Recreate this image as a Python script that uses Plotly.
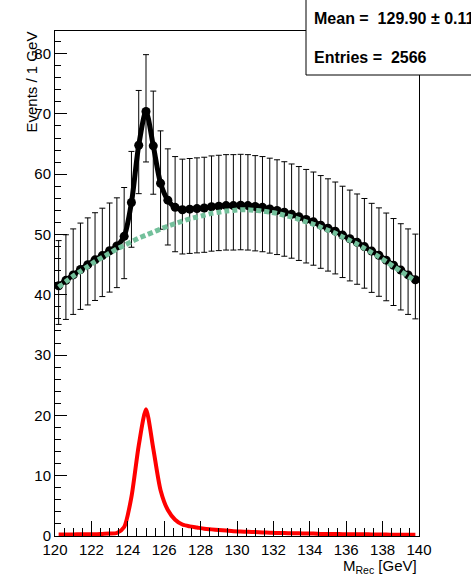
import plotly.graph_objects as go

# ---- data ----
bin_centers = [120.2 + 0.4 * i for i in range(50)]

background = [41.3, 42.2, 43.1, 43.9, 44.7, 45.5, 46.2, 46.9, 47.6, 48.2,
              48.8, 49.4, 49.9, 50.4, 50.9, 51.4, 51.8, 52.2, 52.6, 52.9,
              53.2, 53.5, 53.7, 53.9, 54.0, 54.1, 54.1, 54.0, 53.9, 53.7,
              53.5, 53.2, 52.9, 52.5, 52.1, 51.7, 51.2, 50.7, 50.2, 49.6,
              49.0, 48.4, 47.7, 47.0, 46.3, 45.5, 44.7, 43.9, 43.1, 42.3]

signal = [0.25, 0.25, 0.25, 0.3, 0.3, 0.3, 0.35, 0.4, 0.5, 1.5,
          6.5, 15.0, 21.0, 14.5, 7.6, 4.3, 2.7, 1.9, 1.6, 1.4,
          1.2, 1.1, 1.0, 0.9, 0.8, 0.75, 0.7, 0.65, 0.6, 0.55,
          0.5, 0.5, 0.45, 0.45, 0.4, 0.4, 0.35, 0.35, 0.35, 0.3,
          0.3, 0.3, 0.3, 0.25, 0.25, 0.25, 0.2, 0.2, 0.2, 0.2]

data_counts = [41.5, 42.4, 43.3, 44.2, 45.0, 45.8, 46.5, 47.3, 48.1, 49.7,
               55.3, 64.8, 70.4, 64.7, 58.5, 55.7, 54.5, 54.1, 54.2, 54.3,
               54.4, 54.6, 54.7, 54.8, 54.8, 54.85, 54.8, 54.65, 54.5, 54.25,
               54.0, 53.7, 53.35, 52.95, 52.5, 52.1, 51.55, 51.05, 50.55, 49.9,
               49.3, 48.7, 48.0, 47.25, 46.55, 45.75, 44.9, 44.1, 43.3, 42.5]

x_ticks = [120, 122, 124, 126, 128, 130, 132, 134, 136, 138, 140]
y_ticks = [0, 10, 20, 30, 40, 50, 60, 70, 80]

stats_mean = "Mean =\u00a0\u00a0129.90 \u00b1 0.11"
stats_entries = "Entries =\u00a0\u00a02566"


# Poisson (Garwood, Wilson-Hilferty approx.) asymmetric errors
def poisson_err(n):
    lo = n * (1 - 1 / (9 * n) - 1 / (3 * n ** 0.5)) ** 3
    m = n + 1
    hi = m * (1 - 1 / (9 * m) + 1 / (3 * m ** 0.5)) ** 3
    return hi - n, n - lo


err_up = [poisson_err(n)[0] for n in data_counts]
err_dn = [poisson_err(n)[1] for n in data_counts]

W, H = 471, 577
L, R, T, B = 55, 419, 31, 536


def px(xp):
    return (xp - L) / (R - L)


def py(yp):
    return (B - yp) / (B - T)


FONT = "Liberation Sans, Arial, Helvetica, sans-serif"

fig = go.Figure()

# data points with error bars
fig.add_trace(go.Scatter(
    x=bin_centers, y=data_counts, mode="markers",
    marker=dict(color="black", size=9),
    error_y=dict(type="data", symmetric=False, array=err_up, arrayminus=err_dn,
                 color="black", thickness=1, width=3),
    showlegend=False, hoverinfo="skip"))

# total fit (black line through the data)
fig.add_trace(go.Scatter(
    x=bin_centers, y=data_counts, mode="lines",
    line=dict(color="black", width=5, shape="spline", smoothing=0.8),
    showlegend=False, hoverinfo="skip"))

# background (green dashed)
fig.add_trace(go.Scatter(
    x=bin_centers, y=background, mode="lines",
    line=dict(color="rgb(115,192,155)", width=5, dash="5px,3px",
              shape="spline", smoothing=0.8),
    showlegend=False, hoverinfo="skip"))

# signal (red)
fig.add_trace(go.Scatter(
    x=bin_centers, y=signal, mode="lines",
    line=dict(color="rgb(255,0,0)", width=4, shape="spline", smoothing=0.7),
    showlegend=False, hoverinfo="skip"))

fig.update_layout(
    width=W, height=H,
    margin=dict(l=L, r=W - R, t=T, b=H - B, pad=0),
    paper_bgcolor="white", plot_bgcolor="white",
    font=dict(family=FONT, size=15, color="black"),
    showlegend=False,
    xaxis=dict(range=[120, 140], tickvals=x_ticks, ticktext=[str(v) for v in x_ticks],
               ticks="inside", ticklen=15, tickwidth=1, tickcolor="black",
               minor=dict(ticks="inside", ticklen=8, dtick=0.5, tickcolor="black", tickwidth=1,
                          showgrid=False),
               showline=True, linecolor="black", linewidth=1, mirror=True,
               showgrid=False, zeroline=False,
               tickfont=dict(family=FONT, size=15, color="black")),
    yaxis=dict(range=[0, 83.75], tickvals=y_ticks, ticktext=[str(v) for v in y_ticks],
               ticks="inside", ticklen=12, tickwidth=1, tickcolor="black",
               minor=dict(ticks="inside", ticklen=6, dtick=2, tickcolor="black", tickwidth=1,
                          showgrid=False),
               showline=True, linecolor="black", linewidth=1, mirror=True,
               showgrid=False, zeroline=False,
               tickfont=dict(family=FONT, size=15, color="black")),
)

# axis titles
fig.add_annotation(xref="paper", yref="paper", x=px(419), y=py(566),
                   xanchor="right", yanchor="middle", showarrow=False,
                   text="M<sub>Rec</sub> [GeV]", font=dict(family=FONT, size=15))
fig.add_annotation(xref="paper", yref="paper", x=px(31), y=py(30),
                   xanchor="center", yanchor="top", showarrow=False, textangle=-90,
                   text="Events / 1 GeV", font=dict(family=FONT, size=15))

# stats box
fig.add_shape(type="rect", xref="paper", yref="paper",
              x0=px(306), x1=px(480), y0=py(75), y1=py(-2),
              line=dict(color="black", width=1), fillcolor="white", layer="above")
fig.add_annotation(xref="paper", yref="paper", x=px(312), y=py(19),
                   xanchor="left", yanchor="middle", showarrow=False,
                   text="<b>" + stats_mean + "</b>", font=dict(family=FONT, size=16))
fig.add_annotation(xref="paper", yref="paper", x=px(312), y=py(57),
                   xanchor="left", yanchor="middle", showarrow=False,
                   text="<b>" + stats_entries + "</b>", font=dict(family=FONT, size=16))

fig.write_html("out.html")
